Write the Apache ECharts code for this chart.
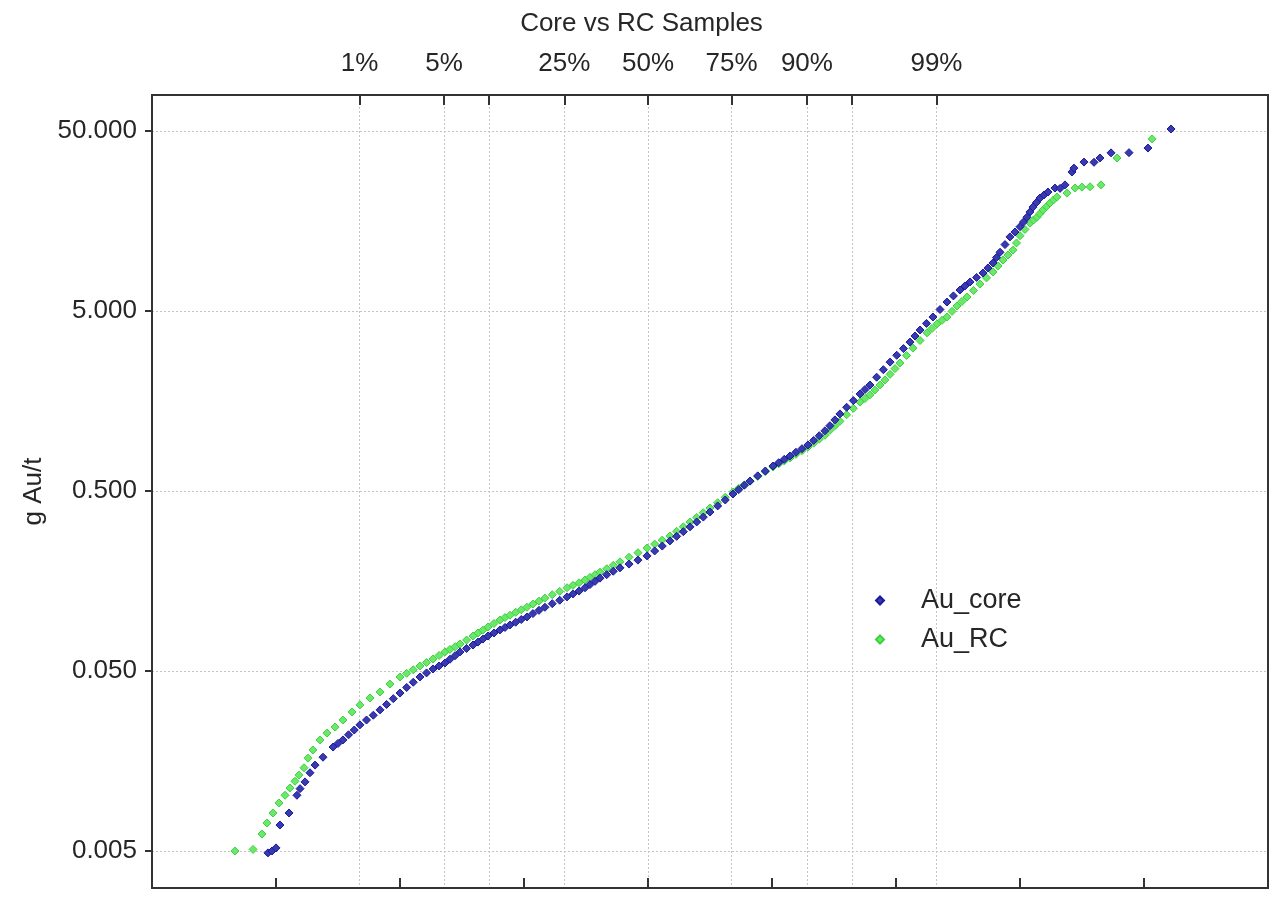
<!DOCTYPE html>
<html><head><meta charset="utf-8">
<script src="https://cdn.jsdelivr.net/npm/echarts@6/dist/echarts.min.js"></script>
<style>html,body{margin:0;padding:0;background:#fff}#c{width:1283px;height:911px}</style>
</head><body><div id="c"></div>
<script>
// normal scores (z) and grades (g Au/t)
const coreZ = [-3.065,-3.032,-3.000,-2.968,-2.895,-2.831,-2.806,-2.766,-2.726,-2.685,-2.621,-2.540,-2.500,-2.460,-2.415,-2.369,-2.323,-2.270,-2.215,-2.161,-2.108,-2.054,-2.000,-1.946,-1.893,-1.839,-1.786,-1.734,-1.685,-1.637,-1.597,-1.556,-1.516,-1.463,-1.411,-1.371,-1.331,-1.290,-1.242,-1.194,-1.153,-1.113,-1.067,-1.022,-0.976,-0.928,-0.879,-0.831,-0.772,-0.712,-0.653,-0.605,-0.556,-0.508,-0.468,-0.427,-0.387,-0.333,-0.280,-0.226,-0.153,-0.081,-0.008,0.054,0.115,0.177,0.231,0.285,0.339,0.393,0.446,0.500,0.562,0.623,0.685,0.731,0.777,0.823,0.885,0.946,1.008,1.054,1.099,1.145,1.193,1.242,1.290,1.336,1.381,1.427,1.467,1.508,1.548,1.602,1.656,1.710,1.750,1.790,1.844,1.898,1.952,2.006,2.060,2.113,2.153,2.194,2.246,2.298,2.355,2.411,2.463,2.516,2.556,2.597,2.650,2.702,2.742,2.782,2.810,2.839,2.879,2.919,2.960,3.000,3.028,3.056,3.080,3.105,3.133,3.161,3.194,3.226,3.282,3.323,3.363,3.419,3.435,3.516,3.597,3.645,3.734,3.879,4.032,4.218];
const coreAu = [0.00488,0.0050,0.0052,0.00697,0.00813,0.0102,0.0111,0.0121,0.0136,0.0150,0.0166,0.0189,0.0198,0.0207,0.0221,0.0235,0.0251,0.0267,0.0284,0.0304,0.0326,0.0351,0.0377,0.0405,0.0433,0.0463,0.0488,0.0513,0.0533,0.0554,0.0581,0.0608,0.0638,0.0667,0.0697,0.0724,0.0752,0.0782,0.0813,0.0845,0.0873,0.0901,0.0933,0.0966,0.0998,0.1042,0.1086,0.113,0.1183,0.1236,0.129,0.134,0.139,0.145,0.151,0.1574,0.164,0.1714,0.1791,0.187,0.1963,0.2065,0.218,0.2323,0.2472,0.264,0.2799,0.2972,0.316,0.3365,0.3581,0.382,0.413,0.4457,0.481,0.5082,0.5383,0.568,0.6067,0.6457,0.688,0.7178,0.7499,0.782,0.8204,0.859,0.901,0.955,1.014,1.08,1.153,1.242,1.34,1.459,1.589,1.73,1.832,1.94,2.143,2.36,2.60,2.838,3.09,3.36,3.631,3.92,4.266,4.63,5.093,5.61,6.067,6.54,6.887,7.25,7.674,8.13,8.67,9.24,9.908,10.6,11.69,12.9,13.74,14.7,15.6,16.6,17.74,18.9,20.04,21.2,22.08,22.9,24.1,24.0,25.1,29.6,31.1,33.6,33.5,35.4,37.8,37.9,40.2,51.3];
const rcZ = [-3.331,-3.185,-3.113,-3.073,-3.024,-2.976,-2.927,-2.887,-2.847,-2.815,-2.774,-2.742,-2.702,-2.645,-2.589,-2.524,-2.460,-2.387,-2.323,-2.242,-2.161,-2.081,-2.000,-1.946,-1.893,-1.839,-1.786,-1.734,-1.685,-1.637,-1.597,-1.556,-1.516,-1.463,-1.411,-1.371,-1.331,-1.290,-1.242,-1.194,-1.153,-1.113,-1.067,-1.022,-0.976,-0.928,-0.879,-0.831,-0.772,-0.712,-0.653,-0.605,-0.556,-0.508,-0.468,-0.427,-0.387,-0.333,-0.280,-0.226,-0.153,-0.081,-0.008,0.054,0.115,0.177,0.231,0.285,0.339,0.393,0.446,0.500,0.562,0.623,0.685,0.731,0.777,0.823,0.885,0.946,1.008,1.054,1.099,1.145,1.193,1.242,1.290,1.336,1.381,1.427,1.467,1.508,1.548,1.602,1.656,1.710,1.750,1.790,1.830,1.871,1.911,1.952,1.992,2.032,2.085,2.137,2.194,2.250,2.290,2.331,2.371,2.411,2.452,2.492,2.532,2.573,2.625,2.677,2.730,2.782,2.823,2.863,2.903,2.944,2.972,3.000,3.040,3.081,3.109,3.137,3.161,3.185,3.214,3.242,3.270,3.298,3.379,3.444,3.500,3.565,3.653,3.782,4.065];
const rcAu = [0.0050,0.0051,0.00621,0.00715,0.00813,0.00924,0.0102,0.0112,0.0122,0.0132,0.0145,0.0164,0.0182,0.0207,0.0226,0.0244,0.0267,0.0296,0.0324,0.0354,0.0382,0.0423,0.0463,0.0485,0.0508,0.0533,0.0557,0.0583,0.0610,0.0638,0.0659,0.0682,0.0706,0.0743,0.0782,0.0813,0.0843,0.0878,0.0918,0.0960,0.0991,0.102,0.1059,0.1094,0.113,0.1178,0.1222,0.127,0.1327,0.1384,0.145,0.1496,0.1545,0.160,0.1656,0.1714,0.177,0.1849,0.1932,0.202,0.2143,0.227,0.241,0.2535,0.2667,0.281,0.2985,0.3162,0.336,0.3565,0.3784,0.402,0.4305,0.4613,0.494,0.5176,0.5408,0.566,0.6026,0.6397,0.680,0.7079,0.7345,0.763,0.7998,0.8375,0.878,0.9226,0.9705,1.02,1.086,1.153,1.22,1.327,1.439,1.56,1.633,1.71,1.82,1.941,2.07,2.223,2.393,2.57,2.831,3.11,3.428,3.78,4.00,4.24,4.436,4.63,4.977,5.33,5.649,5.98,6.501,7.06,7.638,8.24,8.892,9.60,10.23,10.9,11.94,13.1,14.19,15.4,16.0,16.6,17.38,18.2,19.05,19.9,20.7,21.5,22.6,24.1,24.4,24.5,25.1,35.4,45.2];

const yTickVals = [0.005, 0.05, 0.5, 5, 50];
const pctLabels = ['1%','5%','25%','50%','75%','90%','99%'];
const pctLabelZ = [-2.3263,-1.6449,-0.6745,0,0.6745,1.2816,2.3263];
const pctGridZ = [-2.3263,-1.6449,-1.2816,-0.6745,0,0.6745,1.2816,1.6449,2.3263];
const zTicks = [-3,-2,-1,0,1,2,3,4];

const FONT = "'Liberation Sans', Arial, sans-serif";
const TXT = '#262626';
const yMin = 0.003114, yMax = 79.25;
const logTicks = yTickVals.map(v => Math.log10(v));

function nearest(arr, v) {
  let best = 0;
  for (let i = 0; i < arr.length; i++) if (Math.abs(arr[i] - v) < Math.abs(arr[best] - v)) best = i;
  return best;
}

const chart = echarts.init(document.getElementById('c'), null, {renderer: 'canvas'});
chart.setOption({
  animation: false,
  backgroundColor: '#fff',
  title: {
    text: 'Core vs RC Samples', left: 'center', top: 6,
    textStyle: {fontFamily: FONT, fontSize: 26, fontWeight: 'normal', color: TXT}
  },
  legend: {
    orient: 'vertical', left: 870, top: 582, itemWidth: 8, itemHeight: 8, itemGap: 12,
    textStyle: {fontFamily: FONT, fontSize: 27, color: TXT, padding: [0,0,0,32]},
    data: [{name: 'Au_core', icon: 'diamond'}, {name: 'Au_RC', icon: 'diamond'}]
  },
  grid: {left: 152, right: 15, top: 95, bottom: 23, show: true, borderColor: '#333', borderWidth: 2, backgroundColor: 'transparent'},
  xAxis: [
    {
      type: 'value', position: 'bottom', min: -4, max: 5, interval: 1,
      axisLine: {show: true, onZero: false, lineStyle: {color: '#333', width: 2}},
      axisTick: {show: true, inside: true, length: 10, customValues: zTicks, lineStyle: {color: '#333', width: 2}},
      axisLabel: {show: false},
      splitLine: {show: false}
    },
    {
      type: 'value', position: 'top', min: -4, max: 5,
      axisLine: {show: true, onZero: false, lineStyle: {color: '#333', width: 2}},
      axisTick: {show: true, inside: true, length: 10, customValues: pctGridZ, lineStyle: {color: '#333', width: 2}},
      axisLabel: {
        show: true, customValues: pctLabelZ, margin: 18,
        fontFamily: FONT, fontSize: 26, color: TXT,
        formatter: v => pctLabels[nearest(pctLabelZ, v)]
      },
      splitLine: {show: true, lineStyle: {color: '#c4c4c4', type: [2, 2], width: 1}}
    }
  ],
  yAxis: [
    {type: 'log', logBase: 10, min: yMin, max: yMax, show: false},
    {
      type: 'value', position: 'left', min: Math.log10(yMin), max: Math.log10(yMax),
      name: 'g Au/t', nameLocation: 'middle', nameGap: 104, nameRotate: 90,
      nameTextStyle: {fontFamily: FONT, fontSize: 26, color: TXT},
      axisLine: {show: true, onZero: false, lineStyle: {color: '#333', width: 2}},
      axisTick: {show: true, inside: false, length: 7, customValues: logTicks, lineStyle: {color: '#333', width: 2}},
      axisLabel: {
        show: true, customValues: logTicks, margin: 15,
        fontFamily: FONT, fontSize: 26, color: TXT,
        formatter: v => yTickVals[nearest(logTicks, v)].toFixed(3)
      },
      splitLine: {show: true, lineStyle: {color: '#c4c4c4', type: [2, 2], width: 1}}
    }
  ],
  series: [
    {
      name: 'Au_core', type: 'scatter', xAxisIndex: 0, yAxisIndex: 0,
      symbol: 'diamond', symbolSize: 8,
      itemStyle: {color: '#3a3ab0', borderColor: '#1a1a9c', borderWidth: 1, opacity: 1},
      data: coreZ.map((z, i) => [z, coreAu[i]]), z: 3
    },
    {
      name: 'Au_RC', type: 'scatter', xAxisIndex: 0, yAxisIndex: 0,
      symbol: 'diamond', symbolSize: 8,
      itemStyle: {color: '#6be86b', borderColor: '#3cd23c', borderWidth: 1, opacity: 1},
      data: rcZ.map((z, i) => [z, rcAu[i]]), z: 2
    }
  ]
});
</script></body></html>
